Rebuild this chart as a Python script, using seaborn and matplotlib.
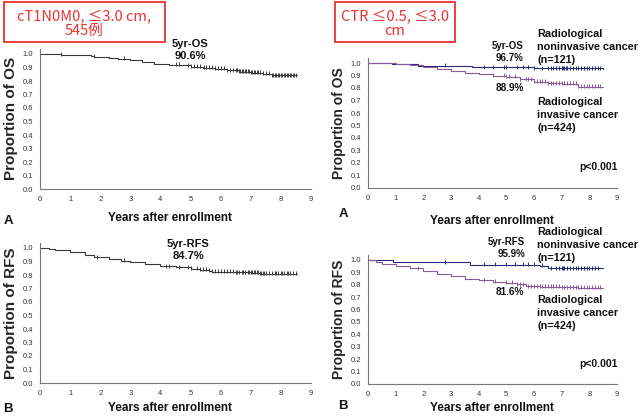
import numpy as np
import pandas as pd
import seaborn as sns
import matplotlib.pyplot as plt
from matplotlib.patches import Rectangle

# ---- data ----
xticks = list(range(0, 10))
yticks = [0.0, 0.1, 0.2, 0.3, 0.4, 0.5, 0.6, 0.7, 0.8, 0.9, 1.0]

# panel A (left): overall OS
os_all_t = [0, 0.3, 0.7, 1.0, 1.7, 1.8, 2.3, 2.6, 3.0, 3.4, 3.8, 4.3, 4.8, 5.0, 5.4, 5.8, 6.2, 6.6, 7.0, 7.4, 7.7, 8.55]
os_all_s = [1.0, 0.997, 0.993, 0.99, 0.985, 0.978, 0.974, 0.965, 0.952, 0.94, 0.925, 0.921, 0.915, 0.906, 0.898, 0.89, 0.88, 0.87, 0.862, 0.855, 0.843, 0.842]
os_all_cens = [0.7, 1.8, 2.8, 4.5, 4.6, 4.9, 5.0, 5.1, 5.2, 5.3, 5.45, 5.5, 5.6, 5.7, 5.8, 5.9, 6.0, 6.1, 6.2, 6.3,
               6.4, 6.5, 6.55, 6.6, 6.65, 6.7, 6.75, 6.8, 6.85, 6.9, 6.95, 7.0, 7.05, 7.1, 7.15, 7.2, 7.25,
               7.3, 7.4, 7.5, 7.6, 7.7, 7.75, 7.8, 7.85, 7.9, 7.95, 8.0, 8.05, 8.1, 8.15, 8.2, 8.25, 8.3,
               8.35, 8.4, 8.45, 8.5]

# panel B (left): overall RFS
rfs_all_t = [0, 0.3, 0.5, 1.0, 1.5, 1.8, 2.3, 2.7, 3.0, 3.5, 4.0, 4.5, 5.0, 5.3, 5.6, 5.7, 6.5, 7.0, 7.3, 8.55]
rfs_all_s = [1.0, 0.995, 0.985, 0.97, 0.945, 0.93, 0.915, 0.905, 0.895, 0.88, 0.865, 0.858, 0.847, 0.84, 0.83, 0.825, 0.82, 0.818, 0.81, 0.81]
rfs_all_cens = [1.9, 2.8, 4.2, 4.3, 4.6, 4.9, 5.0, 5.2, 5.3, 5.4, 5.5, 5.6, 5.7, 5.8, 5.9, 6.0, 6.1, 6.2, 6.3, 6.4,
                6.5, 6.55, 6.6, 6.7, 6.75, 6.8, 6.9, 6.95, 7.0, 7.05, 7.1, 7.15, 7.2, 7.25, 7.3, 7.35,
                7.4, 7.45, 7.5, 7.6, 7.7, 7.8, 7.85, 7.9, 8.0, 8.05, 8.1, 8.2, 8.25, 8.3, 8.4, 8.5]

# right panels: noninvasive (n=121) vs invasive (n=424)
os_non_t = [0, 0.85, 1.8, 3.75, 6.0, 8.5]
os_non_s = [1.0, 0.99, 0.98, 0.967, 0.958, 0.955]
os_non_cens = [2.8, 4.2, 4.5, 4.9, 5.0, 5.4, 5.6, 5.8, 6.0, 6.3, 6.5, 6.6, 6.7, 6.8, 6.9, 7.0, 7.05, 7.1,
               7.15, 7.2, 7.3, 7.4, 7.5, 7.6, 7.7, 7.8, 7.9, 8.0, 8.1, 8.2, 8.3, 8.4]
os_inv_t = [0, 1.0, 1.5, 2.0, 2.5, 3.0, 3.5, 4.0, 4.5, 5.0, 5.5, 6.0, 6.5, 7.0, 7.6, 8.5]
os_inv_s = [1.0, 0.99, 0.985, 0.97, 0.95, 0.935, 0.92, 0.91, 0.9, 0.889, 0.87, 0.85, 0.84, 0.835, 0.81, 0.805]
os_inv_cens = [4.5, 4.9, 5.0, 5.1, 5.3, 5.5, 5.7, 5.8, 5.9, 6.0, 6.1, 6.2, 6.3, 6.4, 6.5, 6.6, 6.7, 6.8,
               6.9, 7.0, 7.1, 7.2, 7.3, 7.4, 7.5, 7.6, 7.7, 7.8, 7.9, 8.0, 8.1, 8.2, 8.3, 8.4]

rfs_non_t = [0, 0.9, 3.7, 6.2, 6.5, 8.5]
rfs_non_s = [1.0, 0.98, 0.96, 0.955, 0.935, 0.933]
rfs_non_cens = [2.8, 4.2, 4.6, 5.0, 5.3, 5.6, 5.8, 6.0, 6.3, 6.6, 6.8, 6.9, 7.0, 7.05, 7.1, 7.2, 7.3, 7.4,
                7.5, 7.6, 7.7, 7.8, 7.9, 8.0, 8.1, 8.2, 8.3]
rfs_inv_t = [0, 0.3, 0.5, 1.0, 1.5, 2.0, 2.5, 3.0, 3.5, 4.0, 4.5, 5.0, 5.4, 5.7, 6.2, 7.0, 7.6, 8.5]
rfs_inv_s = [1.0, 0.98, 0.97, 0.955, 0.935, 0.91, 0.89, 0.87, 0.85, 0.835, 0.825, 0.816, 0.805, 0.79, 0.785, 0.78, 0.775, 0.775]
rfs_inv_cens = [1.8, 4.2, 4.6, 5.0, 5.2, 5.4, 5.5, 5.6, 5.8, 5.9, 6.0, 6.1, 6.2, 6.3, 6.4, 6.5, 6.6, 6.7,
                6.8, 6.9, 7.0, 7.1, 7.2, 7.3, 7.4, 7.5, 7.6, 7.7, 7.8, 7.9, 8.0, 8.1, 8.2, 8.3, 8.4]

sns.set_style("white")
plt.rcParams['font.family'] = ['Liberation Sans', 'DejaVu Sans']

W, H = 640, 416
fig = plt.figure(figsize=(6.4, 4.16), dpi=100)


def px(x, y):
    return x / W, 1 - y / H


def add_axes(left, bottom, right, one_y):
    scale = bottom - one_y
    top = bottom - 1.04 * scale
    return fig.add_axes([left / W, 1 - bottom / H, (right - left) / W, (bottom - top) / H])


def km(ax, t, s, cens, color):
    df = pd.DataFrame({'t': t, 's': s})
    sns.lineplot(data=df, x='t', y='s', ax=ax, drawstyle='steps-post', color=color, lw=0.8)
    idx = np.searchsorted(t, cens, side='right') - 1
    cy = np.array(s)[idx] + 0.004
    sns.scatterplot(x=cens, y=cy, ax=ax, marker='|', s=6, color=color, linewidth=0.7)


def style(ax, ylabel, lsize):
    ax.set_xlim(0, 9)
    ax.set_ylim(0, 1.04)
    ax.set_xticks(xticks)
    ax.set_yticks(yticks)
    ax.set_yticklabels([f"{v:.1f}" for v in yticks])
    ax.tick_params(labelsize=5.5, length=2, width=0.6, colors='#555555', labelcolor='#333333', pad=3)
    for sp in ['top', 'right']:
        ax.spines[sp].set_visible(False)
    for sp in ['left', 'bottom']:
        ax.spines[sp].set_color('#777777')
        ax.spines[sp].set_linewidth(0.8)
    ax.set_xlabel('')
    ax.set_ylabel(ylabel, fontsize=lsize, fontweight='bold', labelpad=3)


ax1 = add_axes(40, 189, 311, 54)
ax2 = add_axes(368, 188, 617, 63)
ax3 = add_axes(40, 383, 311, 248)
ax4 = add_axes(368, 384, 617, 260)

km(ax1, os_all_t, os_all_s, os_all_cens, '#3a3a3a')
km(ax3, rfs_all_t, rfs_all_s, rfs_all_cens, '#3a3a3a')
km(ax2, os_non_t, os_non_s, os_non_cens, '#2a2a78')
km(ax2, os_inv_t, os_inv_s, os_inv_cens, '#8a5a9e')
km(ax4, rfs_non_t, rfs_non_s, rfs_non_cens, '#2a2a78')
km(ax4, rfs_inv_t, rfs_inv_s, rfs_inv_cens, '#8a5a9e')

style(ax1, 'Proportion of OS', 11)
style(ax3, 'Proportion of RFS', 11)
style(ax2, 'Proportion of OS', 10)
style(ax4, 'Proportion of RFS', 10)

bold = dict(fontweight='bold', color='#111111')

# x labels and panel letters
for (x, y) in [(170, 218), (170, 408), (492, 221), (492, 408)]:
    fig.text(*px(x, y), 'Years after enrollment', ha='center', va='center', fontsize=8.5, **bold)
for (x, y, l) in [(8, 221, 'A'), (8, 409, 'B'), (343, 214, 'A'), (343, 406, 'B')]:
    fig.text(*px(x, y), l, ha='center', va='center', fontsize=9.5, **bold)

# annotations
fig.text(*px(190, 50), '5yr-OS\n90.6%', ha='center', va='center', fontsize=8,
         linespacing=1.25, **bold)
fig.text(*px(188, 250), '5yr-RFS\n84.7%', ha='center', va='center', fontsize=8,
         linespacing=1.25, **bold)

fig.text(*px(523, 52), '5yr-OS\n96.7%', ha='right', va='center', fontsize=7,
         linespacing=1.3, **bold)
fig.text(*px(524, 88), '88.9%', ha='right', va='center', fontsize=7.2, **bold)
fig.text(*px(525, 248), '5yr-RFS\n95.9%', ha='right', va='center', fontsize=7,
         linespacing=1.3, **bold)
fig.text(*px(524, 292), '81.6%', ha='right', va='center', fontsize=7.2, **bold)

for (y1, y2) in [(47, 115), (245, 313)]:
    fig.text(*px(537, y1), 'Radiological\nnoninvasive cancer\n(n=121)', ha='left', va='center',
             fontsize=7.8, linespacing=1.35, **bold)
    fig.text(*px(537, y2), 'Radiological\ninvasive cancer\n(n=424)', ha='left', va='center',
             fontsize=7.8, linespacing=1.35, **bold)
fig.text(*px(618, 167), 'p<0.001', ha='right', va='center', fontsize=7.5, **bold)
fig.text(*px(618, 364), 'p<0.001', ha='right', va='center', fontsize=7.5, **bold)

# red boxes
cjk = ['Noto Sans CJK JP', 'DejaVu Sans']
for (x0, y0, x1, y1) in [(4, 2, 165, 42), (335, 2, 455, 42)]:
    fig.patches.append(Rectangle(px(x0, y1), (x1 - x0) / W, (y1 - y0) / H, transform=fig.transFigure,
                                 fill=False, edgecolor='#e8332e', linewidth=1.3))
fig.text(*px(84, 24), 'cT1N0M0, ≤3.0 cm,\n545例', ha='center', va='center', fontsize=10.5,
         color='#e8332e', family=cjk, linespacing=1.05)
fig.text(*px(395, 24), 'CTR ≤0.5, ≤3.0\ncm', ha='center', va='center', fontsize=10.5,
         color='#e8332e', family=cjk, linespacing=1.05)

fig.savefig('out.png', dpi=100)
